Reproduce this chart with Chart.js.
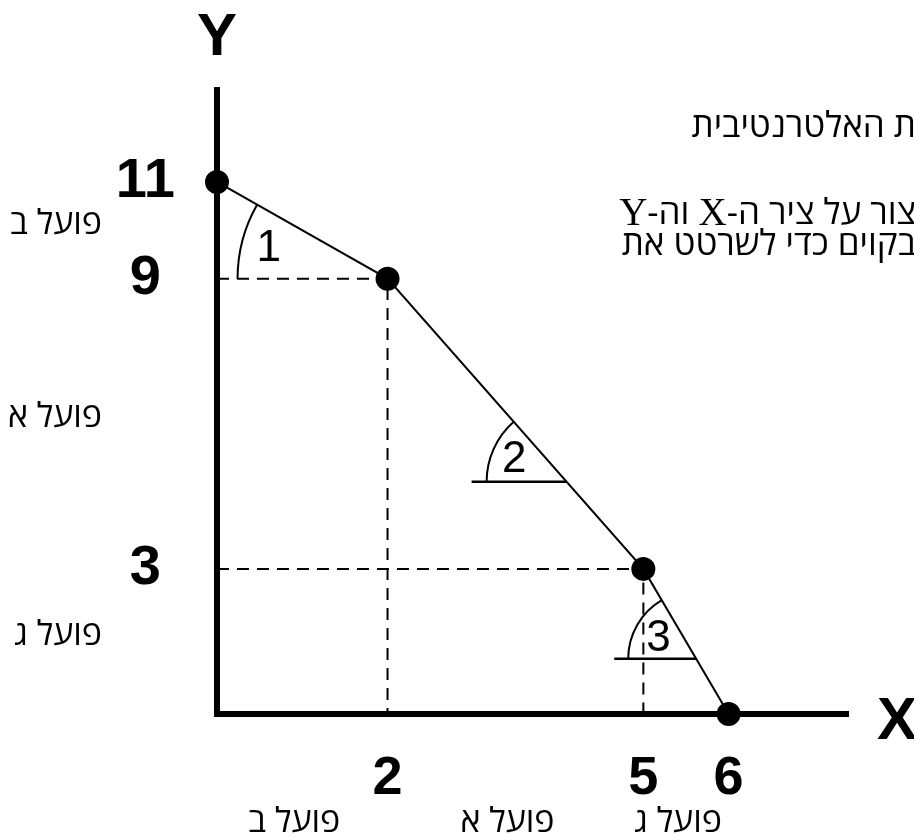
<!DOCTYPE html>
<html>
<head>
<meta charset="utf-8">
<script src="https://cdn.jsdelivr.net/npm/chart.js@4.4.1/dist/chart.umd.min.js"></script>
<style>
  html, body { margin: 0; padding: 0; background: #fff; }
  #wrap { width: 914px; height: 840px; }
</style>
</head>
<body>
<div id="wrap"><canvas id="ppf" width="914" height="840"></canvas></div>
<script>
// corner points of the production possibilities curve
const xValues = [0, 2, 5, 6];
const yValues = [11, 9, 3, 0];
const xTickValues = [2, 5, 6];
const yTickValues = [3, 9, 11];
// worker responsible for each stretch of the axes (between consecutive corner values)
const workerLabels = ['פועל ב', 'פועל א', 'פועל ג'];
const angleLabels = ['1', '2', '3'];
const noteLines = ['ת האלטרנטיבית', 'צור על ציר ה-X וה-Y', 'בקוים כדי לשרטט את'];

const hebFont = "'Open Sans', 'DejaVu Sans', sans-serif";
const numFont = "'Liberation Sans', Arial, sans-serif";
const serifFont = "'Liberation Serif', 'DejaVu Serif', serif";

const points = xValues.map((x, i) => ({ x: x, y: yValues[i] }));

// dashed guides from the axes to every inner corner
const guideSets = points.filter(p => p.x > 0 && p.y > 0).map(p => ({
  data: [{ x: 0, y: p.y }, { x: p.x, y: p.y }, { x: p.x, y: 0 }],
  showLine: true,
  borderColor: '#000',
  borderWidth: 2,
  borderDash: [12, 8],
  pointRadius: 0,
  fill: false
}));

// angle markers along the curve segments (style only)
const angleMarks = [
  { seg: 0, at: 1, radius: 150, refLen: 0, labelDist: 0.82 },
  { seg: 1, at: 0.7, radius: 80, refLen: 95, labelDist: 0.72 },
  { seg: 2, at: 0.62, radius: 68, refLen: 82, labelDist: 0.64 }
];

const extrasPlugin = {
  id: 'extras',
  afterDatasetsDraw(chart) {
    const ctx = chart.ctx;
    const xs = chart.scales.x, ys = chart.scales.y;
    const area = chart.chartArea;
    const px = points.map(p => ({ x: xs.getPixelForValue(p.x), y: ys.getPixelForValue(p.y) }));

    ctx.save();
    ctx.strokeStyle = '#000';
    ctx.fillStyle = '#000';

    // angles
    angleMarks.forEach((m, i) => {
      const a = px[m.seg], b = px[m.seg + 1];
      const vx = a.x + (b.x - a.x) * m.at;
      const vy = a.y + (b.y - a.y) * m.at;
      let th = Math.atan2(a.y - vy, a.x - vx);
      if (th < 0) th += Math.PI * 2;
      if (m.refLen) {
        ctx.lineWidth = 2.5;
        ctx.beginPath();
        ctx.moveTo(vx - m.refLen, vy);
        ctx.lineTo(vx, vy);
        ctx.stroke();
      }
      ctx.lineWidth = 2;
      ctx.beginPath();
      ctx.arc(vx, vy, m.radius, Math.PI, th, false);
      ctx.stroke();
      const mid = (Math.PI + th) / 2;
      const d = m.radius * m.labelDist;
      ctx.font = '44px ' + numFont;
      ctx.textAlign = 'center';
      ctx.textBaseline = 'middle';
      ctx.fillText(angleLabels[i], vx + Math.cos(mid) * d, vy + Math.sin(mid) * d + 2);
    });

    // axis names
    ctx.font = 'bold 60px ' + numFont;
    ctx.textAlign = 'center';
    ctx.textBaseline = 'middle';
    ctx.fillText('Y', area.left, 38);
    ctx.fillText('X', 897, area.bottom + 8);

    // worker labels on both axes
    ctx.font = '34px ' + hebFont;
    ctx.direction = 'rtl';
    for (let i = 0; i < workerLabels.length; i++) {
      const ym = ys.getPixelForValue((yValues[i] + yValues[i + 1]) / 2);
      ctx.textAlign = 'right';
      ctx.fillText(workerLabels[i], 102, ym - 6);
      const xm = xs.getPixelForValue((xValues[i] + xValues[i + 1]) / 2);
      ctx.textAlign = 'center';
      ctx.fillText(workerLabels[i], xm - 8, 822);
    }

    // clipped note text at top right
    const noteY = [127, 214, 245];
    noteLines.forEach((line, i) => {
      let x = 916;
      line.split(/([XY])/).filter(s => s.length).forEach(part => {
        const latin = /^[XY]$/.test(part);
        ctx.font = latin ? '39px ' + serifFont : '35px ' + hebFont;
        ctx.textAlign = 'right';
        ctx.fillText(part, x, noteY[i] + (latin ? 1 : 0));
        x -= ctx.measureText(part).width;
      });
    });
    ctx.restore();
  }
};

new Chart(document.getElementById('ppf'), {
  type: 'scatter',
  data: {
    datasets: [{
      data: points,
      showLine: true,
      borderColor: '#000',
      borderWidth: 2,
      pointRadius: 11,
      pointBackgroundColor: '#000',
      pointBorderColor: '#000',
      clip: false
    }].concat(guideSets)
  },
  options: {
    responsive: false,
    animation: false,
    devicePixelRatio: 1,
    layout: { padding: { top: 90, right: 66, left: 0, bottom: 0 } },
    plugins: {
      legend: { display: false },
      tooltip: { enabled: false }
    },
    scales: {
      x: {
        type: 'linear',
        min: 0,
        max: 7.4,
        afterBuildTicks: s => { s.ticks = xTickValues.map(v => ({ value: v })); },
        afterFit: s => { s.height = 126; },
        grid: { display: false },
        border: { display: true, color: '#000', width: 6 },
        ticks: {
          padding: 25,
          color: '#000',
          maxRotation: 0,
          font: { family: numFont, size: 54, weight: 'bold' }
        }
      },
      y: {
        type: 'linear',
        min: 0,
        max: 12.9,
        afterBuildTicks: s => { s.ticks = yTickValues.map(v => ({ value: v })); },
        afterFit: s => { s.width = 217; },
        grid: { display: false },
        border: { display: true, color: '#000', width: 6 },
        ticks: {
          padding: 34,
          color: '#000',
          crossAlign: 'center',
          font: { family: numFont, size: 56, weight: 'bold' }
        }
      }
    }
  },
  plugins: [extrasPlugin]
});
</script>
</body>
</html>
